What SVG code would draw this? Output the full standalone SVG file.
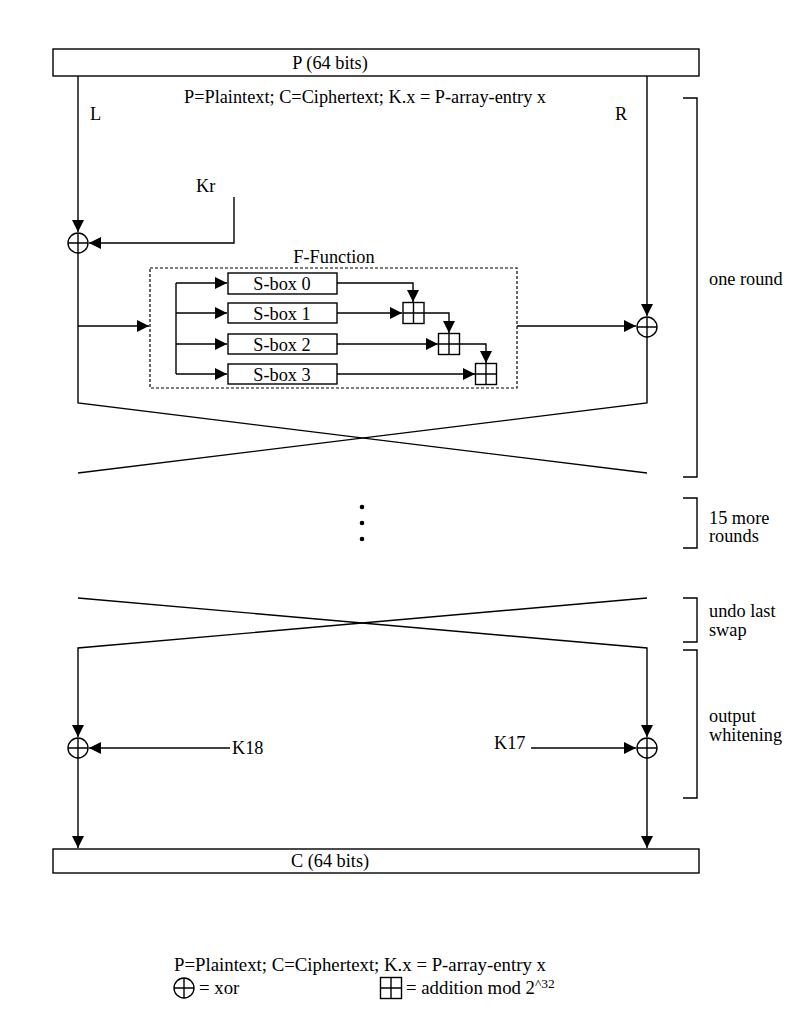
<svg xmlns="http://www.w3.org/2000/svg" width="811" height="1024" viewBox="0 0 811 1024">
<style>
text{font-family:"Liberation Serif","Times New Roman",serif;font-size:18.3px;fill:#000}
.lg{font-size:18.8px}
.ln{fill:none;stroke:#000;stroke-width:1.4}
.bx{fill:#fff;stroke:#000;stroke-width:1.4}
.dash{fill:none;stroke:#000;stroke-width:1.2;stroke-dasharray:3,2}
.mid{text-anchor:middle}
</style>
<defs>
<marker id="ar" markerUnits="userSpaceOnUse" markerWidth="13" markerHeight="13" refX="12" refY="6" orient="auto">
<path d="M0,0 L12,6 L0,12 z" fill="#000"/>
</marker>
<g id="xorsym"><circle cx="0" cy="0" r="10" fill="#fff" stroke="#000" stroke-width="1.4"/><path d="M-10,0 H10 M0,-10 V10" stroke="#000" stroke-width="1.4"/></g>
<g id="addsym"><rect x="-10.5" y="-10.5" width="21" height="21" fill="#fff" stroke="#000" stroke-width="1.4"/><path d="M-10.5,0 H10.5 M0,-10.5 V10.5" stroke="#000" stroke-width="1.4"/></g>
</defs>

<g id="connectors">
<path class="ln" d="M78,76 V232" marker-end="url(#ar)"/>
<path class="ln" d="M78,253 V403 L647,473"/>
<path class="ln" d="M647,76 V316" marker-end="url(#ar)"/>
<path class="ln" d="M647,337 V403 L78,473"/>
<path class="ln" d="M234,197 V243 H89" marker-end="url(#ar)"/>
<path class="ln" d="M78,326 H149" marker-end="url(#ar)"/>
<path class="ln" d="M176,283 V374"/>
<path class="ln" d="M176,283 H227" marker-end="url(#ar)"/>
<path class="ln" d="M176,313 H227" marker-end="url(#ar)"/>
<path class="ln" d="M176,344 H227" marker-end="url(#ar)"/>
<path class="ln" d="M176,374 H227" marker-end="url(#ar)"/>
<path class="ln" d="M337,283 H413 V302" marker-end="url(#ar)"/>
<path class="ln" d="M337,313 H402" marker-end="url(#ar)"/>
<path class="ln" d="M424,313 H449 V333" marker-end="url(#ar)"/>
<path class="ln" d="M337,344 H438" marker-end="url(#ar)"/>
<path class="ln" d="M460,344 H486 V363" marker-end="url(#ar)"/>
<path class="ln" d="M337,374 H475" marker-end="url(#ar)"/>
<path class="ln" d="M517,326 H636" marker-end="url(#ar)"/>
<path class="ln" d="M78,598 L647,648 V737" marker-end="url(#ar)"/>
<path class="ln" d="M647,598 L78,648 V737" marker-end="url(#ar)"/>
<path class="ln" d="M78,758 V848" marker-end="url(#ar)"/>
<path class="ln" d="M647,758 V848" marker-end="url(#ar)"/>
<path class="ln" d="M230,748 H89" marker-end="url(#ar)"/>
<path class="ln" d="M531,748 H636" marker-end="url(#ar)"/>
</g>

<g id="plaintext">
<rect class="bx" x="53" y="49" width="646" height="27"/>
<text class="mid" x="330" y="69">P (64 bits)</text>
</g>
<text class="mid" x="365" y="103">P=Plaintext; C=Ciphertext; K.x = P-array-entry x</text>
<text x="90" y="120">L</text>
<text x="615" y="120">R</text>
<text x="196" y="192">Kr</text>

<g id="xor-left"><use href="#xorsym" x="78" y="243"/></g>
<g id="xor-right"><use href="#xorsym" x="647" y="327"/></g>

<g id="f-function">
<rect class="dash" x="150" y="268" width="367" height="120"/>
<text class="mid" x="334" y="263">F-Function</text>
</g>
<g id="sbox0"><rect class="bx" x="228" y="273" width="109" height="21"/><text class="mid" x="282" y="290">S-box 0</text></g>
<g id="sbox1"><rect class="bx" x="228" y="303" width="109" height="20"/><text class="mid" x="282" y="319.5">S-box 1</text></g>
<g id="sbox2"><rect class="bx" x="228" y="334" width="109" height="20"/><text class="mid" x="282" y="350.5">S-box 2</text></g>
<g id="sbox3"><rect class="bx" x="228" y="364" width="109" height="20"/><text class="mid" x="282" y="380.5">S-box 3</text></g>
<g id="add1"><use href="#addsym" x="413.5" y="313"/></g>
<g id="add2"><use href="#addsym" x="449" y="344"/></g>
<g id="add3"><use href="#addsym" x="486" y="374"/></g>

<g id="dots">
<circle cx="362" cy="507" r="2.3" fill="#000"/>
<circle cx="362" cy="523" r="2.3" fill="#000"/>
<circle cx="362" cy="539" r="2.3" fill="#000"/>
</g>

<g id="xor-k18"><use href="#xorsym" x="78" y="748"/></g>
<g id="xor-k17"><use href="#xorsym" x="647" y="748"/></g>
<text x="232" y="754">K18</text>
<text x="494" y="749">K17</text>

<g id="ciphertext">
<rect class="bx" x="53" y="849" width="646" height="24"/>
<text class="mid" x="330" y="867">C (64 bits)</text>
</g>

<g id="brackets">
<path class="ln" d="M683,98 H697 V477 H683"/>
<text x="709" y="285">one round</text>
<path class="ln" d="M683,498 H697 V548 H683"/>
<text x="709" y="524">15 more</text>
<text x="709" y="542">rounds</text>
<path class="ln" d="M683,598 H697 V642 H683"/>
<text x="709" y="617">undo last</text>
<text x="709" y="636">swap</text>
<path class="ln" d="M683,650 H697 V798 H683"/>
<text x="709" y="722">output</text>
<text x="709" y="741">whitening</text>
</g>

<g id="legend">
<text class="lg" x="174" y="971">P=Plaintext; C=Ciphertext; K.x = P-array-entry x</text>
<use href="#xorsym" x="184" y="988"/>
<text class="lg" x="199" y="994">= xor</text>
<use href="#addsym" x="391" y="988"/>
<text class="lg" x="406" y="994">= addition mod 2<tspan font-size="13.5" dy="-6">^32</tspan></text>
</g>
</svg>
